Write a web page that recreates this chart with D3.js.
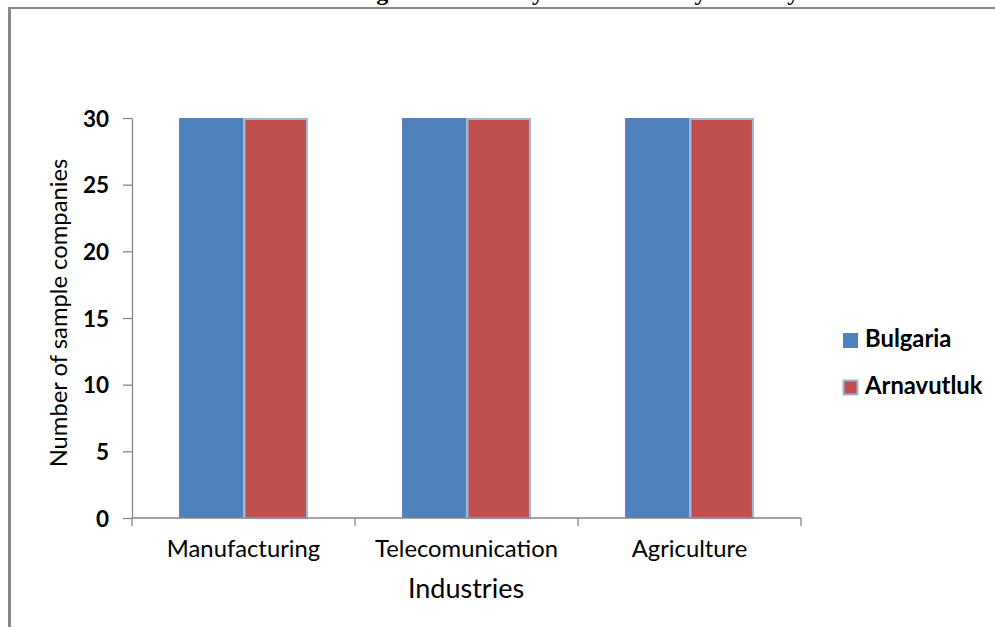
<!DOCTYPE html>
<html>
<head>
<meta charset="utf-8">
<script src="https://cdn.jsdelivr.net/npm/d3@7/dist/d3.min.js"></script>
<style>
  html, body { margin: 0; padding: 0; background: #fff; overflow: hidden; }
  svg { display: block; }
  text { font-family: Lato, "Open Sans", sans-serif; fill: #000; }
</style>
</head>
<body>
<svg id="chart" width="995" height="627"></svg>
<script>
// Sample companies per industry and country
const categories = ["Manufacturing", "Telecomunication", "Agriculture"];
const seriesNames = ["Bulgaria", "Arnavutluk"];
const bulgariaValues = [30, 30, 30];
const arnavutlukValues = [30, 30, 30];
const yTicks = [0, 5, 10, 15, 20, 25, 30];
const titleText = "Figure 1: Industry Distribution by Country";
const yTitle = "Number of sample companies";
const xTitle = "Industries";

const colors = { Bulgaria: "#4f81bd", Arnavutluk: "#c0504d" };
const axisColor = "#868686";

const svg = d3.select("#chart");

// Frame around the chart area (top and left edges visible)
svg.append("line").attr("x1", 9.5).attr("x2", 995).attr("y1", 8).attr("y2", 8)
  .attr("stroke", "#888").attr("stroke-width", 2);
svg.append("line").attr("x1", 9.5).attr("x2", 9.5).attr("y1", 7).attr("y2", 627)
  .attr("stroke", "#888").attr("stroke-width", 3);

// Figure caption, sitting mostly above the page edge
svg.append("text")
  .attr("x", 355).attr("y", 0)
  .style("font-family", "'Liberation Serif', 'Times New Roman', serif")
  .style("font-weight", "bold")
  .style("font-size", "24px")
  .text(titleText);

const plot = { left: 132, right: 801, top: 118, bottom: 518 };

const x0 = d3.scaleBand()
  .domain(categories)
  .range([plot.left, plot.right])
  .paddingInner(0.422)
  .paddingOuter(0.211);

const x1 = d3.scaleBand()
  .domain(seriesNames)
  .range([0, x0.bandwidth()]);

const y = d3.scaleLinear().domain([0, 30]).range([plot.bottom, plot.top]);

const rows = categories.map((c, i) => ({
  category: c,
  values: [
    { name: "Bulgaria", value: bulgariaValues[i] },
    { name: "Arnavutluk", value: arnavutlukValues[i] }
  ]
}));

// Bars
const groups = svg.append("g").selectAll("g")
  .data(rows).join("g")
  .attr("transform", d => `translate(${x0(d.category)},0)`);

groups.selectAll("rect")
  .data(d => d.values).join("rect")
  .attr("x", d => x1(d.name) + (d.name === "Arnavutluk" ? 1 : 0))
  .attr("y", d => y(d.value) + (d.name === "Arnavutluk" ? 1 : 0))
  .attr("width", d => x1.bandwidth() - (d.name === "Arnavutluk" ? 2 : 0))
  .attr("height", d => y(0) - y(d.value) - (d.name === "Arnavutluk" ? 1 : 0))
  .attr("fill", d => colors[d.name])
  .attr("stroke", d => d.name === "Arnavutluk" ? "#9bb5dc" : "none")
  .attr("stroke-width", 2);

// Y axis
const yAxis = svg.append("g")
  .attr("transform", `translate(${plot.left},0)`)
  .call(d3.axisLeft(y).tickValues(yTicks).tickSize(9).tickPadding(14).tickSizeOuter(0));
yAxis.select(".domain").attr("stroke", axisColor).attr("stroke-width", 1.3);
yAxis.selectAll(".tick line").attr("stroke", axisColor).attr("stroke-width", 1.3);
yAxis.selectAll(".tick text")
  .style("font-family", "Lato, sans-serif")
  .style("font-size", "22.5px")
  .style("font-weight", "bold")
  .attr("fill", "#000")
  .attr("dy", "0.36em");

// X axis: ticks on category boundaries
const xAxisG = svg.append("g").attr("transform", `translate(0,${plot.bottom})`);
xAxisG.append("line")
  .attr("x1", plot.left).attr("x2", plot.right)
  .attr("stroke", axisColor).attr("stroke-width", 1.3);
const boundaries = [plot.left].concat(categories.map(c => x0(c) + x0.bandwidth() + x0.step() * x0.paddingOuter()));
xAxisG.selectAll("line.b")
  .data(boundaries).join("line")
  .attr("class", "b")
  .attr("x1", d => d).attr("x2", d => d)
  .attr("y1", 0).attr("y2", 8)
  .attr("stroke", axisColor).attr("stroke-width", 1.3);

xAxisG.selectAll("text.cat")
  .data(categories).join("text")
  .attr("class", "cat")
  .attr("x", d => x0(d) + x0.bandwidth() / 2)
  .attr("y", 39)
  .attr("text-anchor", "middle")
  .style("font-size", "23.8px")
  .text(d => d);

// Axis titles
svg.append("text")
  .attr("x", 466).attr("y", 598)
  .attr("text-anchor", "middle")
  .style("font-size", "27px")
  .text(xTitle);

svg.append("text")
  .attr("transform", "translate(67,313) rotate(-90)")
  .attr("text-anchor", "middle")
  .style("font-size", "23.8px")
  .text(yTitle);

// Legend
const legend = svg.append("g").selectAll("g")
  .data(seriesNames).join("g")
  .attr("transform", (d, i) => `translate(843,${333 + i * 47})`);
legend.append("rect")
  .attr("x", d => d === "Arnavutluk" ? 0.5 : 0)
  .attr("y", d => d === "Arnavutluk" ? 0.5 : 0)
  .attr("width", d => d === "Arnavutluk" ? 14 : 15)
  .attr("height", d => d === "Arnavutluk" ? 14 : 15)
  .attr("fill", d => colors[d])
  .attr("stroke", d => d === "Arnavutluk" ? "#9bb5dc" : "none")
  .attr("stroke-width", 2);
legend.append("text")
  .attr("x", 22).attr("y", 14)
  .style("font-size", "23.8px")
  .style("font-weight", "bold")
  .text(d => d);
</script>
</body>
</html>
